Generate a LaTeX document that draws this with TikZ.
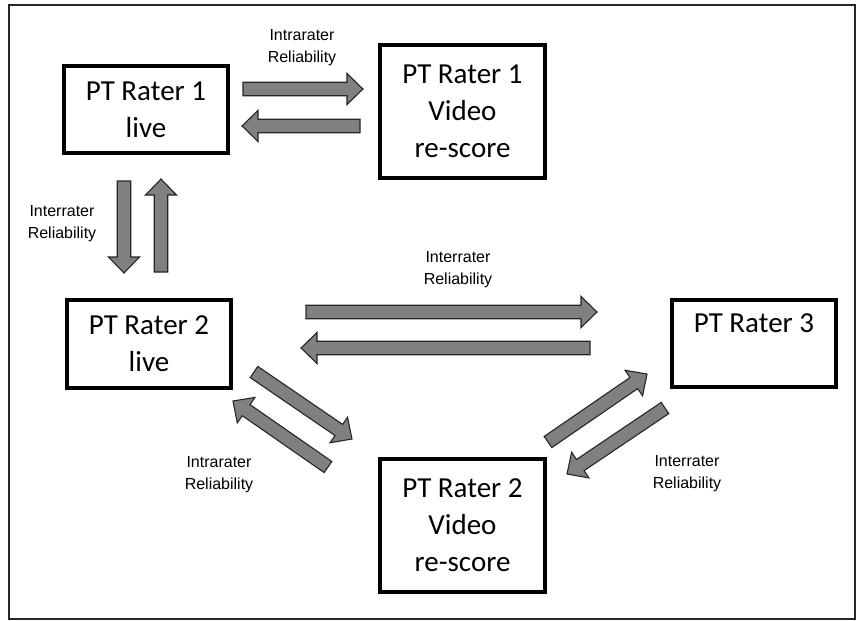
\documentclass[tikz,border=0pt]{standalone}
\usepackage{fontspec}
\setmainfont{Carlito}
\newfontfamily\arialf{Liberation Sans}
\usetikzlibrary{calc}
\definecolor{arrowgray}{HTML}{808080}
\def\fasw{6.75pt}
\def\fahw{15.5pt}
\def\fahl{16pt}
\newcommand{\fatarrow}[2]{%
  \path ($(#2)!\fahl!(#1)$) coordinate (fah);
  \draw[fatarrowstyle] ($(#1)!\fasw!90:(#2)$) -- ($(fah)!\fasw!-90:(#1)$) -- ($(fah)!\fahw!-90:(#1)$) -- (#2) -- ($(fah)!\fahw!90:(#1)$) -- ($(fah)!\fasw!90:(#1)$) -- ($(#1)!\fasw!-90:(#2)$) -- cycle;}
\tikzset{
  fatarrowstyle/.style={fill=arrowgray, draw=black!85, line width=1.1pt, line join=miter},
  raterbox/.style={draw=black, line width=4pt, fill=white, align=center, inner sep=0pt,
    font=\fontsize{29}{37}\selectfont},
  lbl/.style={align=center, inner sep=0pt, font=\arialf\fontsize{16}{22}\selectfont, text=black}
}
\begin{document}
\begin{tikzpicture}[x=1pt,y=-1pt]
\useasboundingbox (0,0) rectangle (857,621);
\draw[line width=1.6pt, black!85] (9,5) rectangle (855,619);
% boxes
\node[raterbox, minimum width=164pt, minimum height=87pt] (r1) at (146,109.5) {PT Rater 1\\live};
\node[raterbox, minimum width=165pt, minimum height=133pt] (r1v) at (462.5,111.5) {PT Rater 1\\Video\\re-score};
\node[raterbox, minimum width=164pt, minimum height=88pt] (r2) at (149,344) {PT Rater 2\\live};
\node[raterbox, minimum width=164pt, minimum height=87pt] (r3) at (754,343.5) {PT Rater 3\\[-8pt]\strut};
\node[raterbox, minimum width=165pt, minimum height=133pt] (r2v) at (462.5,525.5) {PT Rater 2\\Video\\re-score};
% arrow end points
\coordinate (a1s) at (243,89);  \coordinate (a1e) at (363,89);
\coordinate (a2s) at (360,126); \coordinate (a2e) at (242,126);
\coordinate (a3s) at (124,181); \coordinate (a3e) at (124,273);
\coordinate (a4s) at (161,272); \coordinate (a4e) at (161,179);
\coordinate (a5s) at (306,312); \coordinate (a5e) at (597,312);
\coordinate (a6s) at (590,348); \coordinate (a6e) at (301,348);
\coordinate (a7s) at (254,372); \coordinate (a7e) at (352,439);
\coordinate (a8s) at (328,467); \coordinate (a8e) at (233,401);
\coordinate (a9s) at (548,442); \coordinate (a9e) at (647,374);
\coordinate (a10s) at (665,408); \coordinate (a10e) at (567,474);
\fatarrow{a1s}{a1e}
\fatarrow{a2s}{a2e}
\fatarrow{a3s}{a3e}
\fatarrow{a4s}{a4e}
\fatarrow{a5s}{a5e}
\fatarrow{a6s}{a6e}
\fatarrow{a7s}{a7e}
\fatarrow{a8s}{a8e}
\fatarrow{a9s}{a9e}
\fatarrow{a10s}{a10e}
% labels
\node[lbl] (l1) at (302,48) {Intrarater\\Reliability};
\node[lbl] (l2) at (62,224) {Interrater\\Reliability};
\node[lbl] (l3) at (458,270) {Interrater\\Reliability};
\node[lbl] (l4) at (219,475) {Intrarater\\Reliability};
\node[lbl] (l5) at (687,474) {Interrater\\Reliability};
\end{tikzpicture}
\end{document}
